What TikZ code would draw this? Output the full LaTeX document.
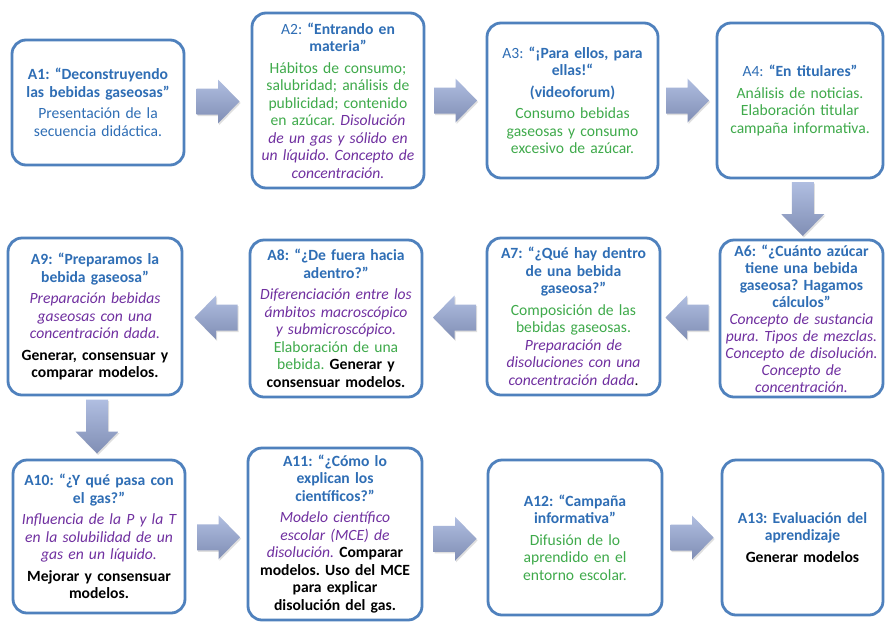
\documentclass[tikz,border=0pt]{standalone}
\usepackage{fontspec}
\setmainfont{Carlito}
\usetikzlibrary{calc,shadows}
\definecolor{tblue}{HTML}{2F6EB5}
\definecolor{tgreen}{HTML}{3FAA4B}
\definecolor{tpurple}{HTML}{7030A0}
\definecolor{bord}{RGB}{79,129,189}
\definecolor{arrtop}{RGB}{176,190,225}
\definecolor{arrbot}{RGB}{128,142,180}
\newcommand\Tt[1]{\textcolor{tblue}{\bfseries #1}}
\newcommand\Tr[1]{\textcolor{tblue}{#1}}
\newcommand\Gr[1]{\textcolor{tgreen}{#1}}
\newcommand\Pu[1]{\textcolor{tpurple}{\itshape #1}}
\newcommand\Bk[1]{\textcolor{black}{\bfseries #1}}
\newcommand\RArr[1]{\shade[arr, shift={(#1)}] (-21.5,-13) -- (0,-13) -- (0,-22) -- (21.5,0) -- (0,22) -- (0,13) -- (-21.5,13) -- cycle;}
\newcommand\LArr[1]{\shade[arr, shift={(#1)}] (21.5,-13) -- (0,-13) -- (0,-22) -- (-21.5,0) -- (0,22) -- (0,13) -- (21.5,13) -- cycle;}
\newcommand\DArr[1]{\shade[arr, shift={(#1)}] (-11,-27) -- (11,-27) -- (11,5) -- (21.5,5) -- (0,27) -- (-21.5,5) -- (-11,5) -- cycle;}
\frenchspacing
\begin{document}
\begin{tikzpicture}[x=1pt,y=-1pt,
  box/.style={draw=bord, line width=2.8pt, rounded corners=14pt, fill=white,
    inner sep=0pt, align=center, font=\fontsize{15.6}{17.5}\selectfont\frenchspacing},
  arr/.style={top color=arrtop, bottom color=arrbot, draw=none,
    drop shadow={opacity=0.25, shadow xshift=1.2pt, shadow yshift=-1.5pt}}]
\useasboundingbox[fill=white] (0,0) rectangle (885,622);

% Row 1
\node[box, minimum width=172pt, minimum height=125pt, text width=168pt] (a1) at (98,102.5)
 {\Tt{A1: “Deconstruyendo\\ las bebidas gaseosas”}\\[4pt]
  \Tr{Presentación de la\\ secuencia didáctica.}};
\node[box, minimum width=172pt, minimum height=175pt, text width=168pt] (a2) at (338,100.5)
 {\Tr{A2:} \Tt{“Entrando en\\ materia”}\\[4pt]
  \Gr{Hábitos de consumo;\\ salubridad; análisis de\\ publicidad; contenido\\ en azúcar.} \Pu{Disolución\\ de un gas y sólido en\\ un líquido. Concepto de\\ concentración.}};
\node[box, minimum width=171pt, minimum height=155pt, text width=167pt] (a3) at (572.5,100.5)
 {\Tr{A3:} \Tt{“¡Para ellos, para\\ ellas!“}\\[4pt]
  \Tt{(videoforum)}\\[4pt]
  \Gr{Consumo bebidas\\ gaseosas y consumo\\ excesivo de azúcar.}};
\node[box, minimum width=166pt, minimum height=155pt, text width=162pt] (a4) at (800,100.5)
 {\Tr{A4:} \Tt{“En titulares”}\\[4pt]
  \Gr{Análisis de noticias.\\ Elaboración titular\\ campaña informativa.}};

% Row 2
\node[box, minimum width=163pt, minimum height=157pt, text width=163pt, font=\fontsize{15.6}{17}\selectfont] (a6) at (801.5,318.5)
 {\Tt{A6: “¿Cuánto azúcar\\ tiene una bebida\\ gaseosa? Hagamos\\ cálculos”}\\
  \Pu{Concepto de sustancia\\ pura. Tipos de mezclas.\\ Concepto de disolución.\\ Concepto de\\ concentración.}};
\node[box, minimum width=173pt, minimum height=157pt, text width=169pt] (a7) at (573.5,316.5)
 {\Tt{A7: “¿Qué hay dentro\\ de una bebida\\ gaseosa?”}\\[4pt]
  \Gr{Composición de las\\ bebidas gaseosas.}\\ \Pu{Preparación de\\ disoluciones con una\\ concentración dada}.};
\node[box, minimum width=172pt, minimum height=157pt, text width=170pt] (a8) at (336,318.5)
 {\Tt{A8: “¿De fuera hacia\\ adentro?”}\\[4pt]
  \Pu{Diferenciación entre los\\ ámbitos macroscópico\\ y submicroscópico.}\\ \Gr{Elaboración de una\\ bebida.} \Bk{Generar y\\ consensuar modelos.}};
\node[box, minimum width=174pt, minimum height=157pt, text width=170pt] (a9) at (95,316.5)
 {\Tt{A9: “Preparamos la\\ bebida gaseosa”}\\[4pt]
  \Pu{Preparación bebidas\\ gaseosas con una\\ concentración dada.}\\[4pt]
  \Bk{Generar, consensuar y\\ comparar modelos.}};

% Row 3
\node[box, minimum width=172pt, minimum height=153pt, text width=170pt] (a10) at (99,536.5)
 {\Tt{A10: “¿Y qué pasa con\\ el gas?”}\\[4pt]
  \Pu{Influencia de la P y la T\\ en la solubilidad de un\\ gas en un líquido.}\\[4pt]
  \Bk{Mejorar y consensuar\\ modelos.}};
\node[box, minimum width=174pt, minimum height=172pt, text width=170pt] (a11) at (335,534)
 {\Tt{A11: “¿Cómo lo\\ explican los\\ científicos?”}\\[4pt]
  \Pu{Modelo científico\\ escolar (MCE) de\\ disolución.} \Bk{Comparar\\ modelos. Uso del MCE\\ para explicar\\ disolución del gas.}};
\node[box, minimum width=174pt, minimum height=155pt, text width=170pt] (a12) at (575,537.5)
 {\Tt{A12: “Campaña\\ informativa”}\\[4pt]
  \Gr{Difusión de lo\\ aprendido en el\\ entorno escolar.}};
\node[box, minimum width=161pt, minimum height=155pt, text width=159pt] (a13) at (802.5,537.5)
 {\Tt{A13: Evaluación del\\ aprendizaje}\\[4pt]
  \Bk{Generar modelos}};

% connector positions
\coordinate (m12) at ($(a1.east)!0.5!(a2.west)$);
\coordinate (m23) at ($(a2.east)!0.5!(a3.west)$);
\coordinate (m34) at ($(a3.east)!0.5!(a4.west)$);
\coordinate (m46) at ($(a4.south)!0.5!(a6.north)+(2,0)$);
\coordinate (m67) at ($(a6.west)!0.5!(a7.east)+(-3,0)$);
\coordinate (m78) at ($(a7.west)!0.5!(a8.east)$);
\coordinate (m89) at ($(a8.west)!0.5!(a9.east)$);
\coordinate (m910) at ($(a9.south)!0.5!(a10.north)+(0,-1)$);
\coordinate (m1011) at ($(a10.east)!0.5!(a11.west)+(2,2)$);
\coordinate (m1112) at ($(a11.east)!0.5!(a12.west)+(0,3)$);
\coordinate (m1213) at ($(a12.east)!0.5!(a13.west)$);

\RArr{m12}
\RArr{m23}
\RArr{m34}
\DArr{m46}
\LArr{m67}
\LArr{m78}
\LArr{m89}
\DArr{m910}
\RArr{m1011}
\RArr{m1112}
\RArr{m1213}
\end{tikzpicture}
\end{document}
